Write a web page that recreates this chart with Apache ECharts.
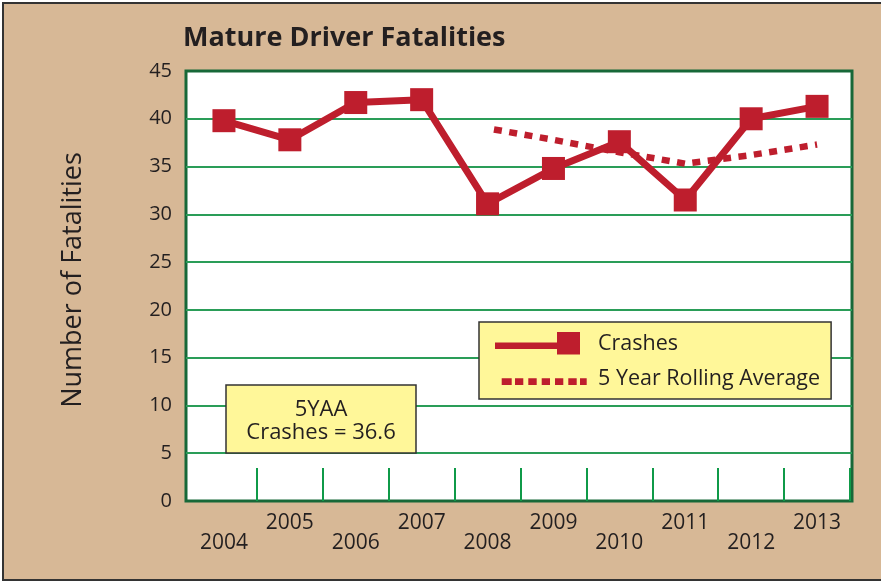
<!DOCTYPE html>
<html>
<head>
<meta charset="utf-8">
<script src="https://cdn.jsdelivr.net/npm/echarts@6/dist/echarts.min.js"></script>
<style>
html,body{margin:0;padding:0;background:#fff;}
#chart{width:881px;height:582px;}
</style>
</head>
<body>
<div id="chart"></div>
<script>
const years = ['2004','2005','2006','2007','2008','2009','2010','2011','2012','2013'];
const crashes = [39.8, 37.8, 41.7, 42.0, 31.1, 34.8, 37.6, 31.5, 40.0, 41.3];
const rollingAvg = [null, null, null, null, 39.0, 37.8, 36.5, 35.3, 36.2, 37.3];
const yTicks = [0, 5, 10, 15, 20, 25, 30, 35, 40, 45];
const fiveYAA = 36.6;

const RED = '#be1e2d';
const TXT = '#231f20';
const FONT = '"Open Sans", "Noto Sans", sans-serif';

const chart = echarts.init(document.getElementById('chart'), null, {renderer: 'canvas'});
chart.setOption({
  backgroundColor: '#ffffff',
  animation: false,
  textStyle: {fontFamily: FONT, color: TXT},
  title: {
    text: 'Mature Driver Fatalities',
    left: 183, top: 23, padding: 0,
    textStyle: {fontFamily: FONT, fontSize: 27, fontWeight: 'bold', color: TXT, lineHeight: 30}
  },
  grid: [
    {left: 186, right: 29, top: 71, bottom: 81, show: true, backgroundColor: '#ffffff',
     borderColor: '#176838', borderWidth: 3, containLabel: false},
    {left: 191, right: 31, top: 71, bottom: 81, show: false, containLabel: false}
  ],
  xAxis: [{
    gridIndex: 0,
    type: 'category',
    data: years,
    show: false
  }, {
    gridIndex: 1,
    type: 'category',
    data: years,
    boundaryGap: true,
    axisLine: {show: false},
    axisTick: {show: true, inside: true, length: 33, interval: (i) => i !== 0,
               lineStyle: {color: '#0f9a48', width: 2}},
    axisLabel: {
      interval: 0, margin: 12, fontSize: 21, lineHeight: 20, color: TXT, fontFamily: FONT,
      formatter: (v, i) => (i % 2 === 0 ? '\n' + v : v)
    },
    splitLine: {show: false}
  }],
  yAxis: [{
    gridIndex: 0,
    type: 'value',
    min: 0, max: 45, interval: 5,
    name: 'Number of Fatalities',
    nameLocation: 'middle',
    nameGap: 99,
    nameTextStyle: {fontFamily: FONT, fontSize: 27, color: TXT, padding: [0, 0, 0, 12]},
    axisLine: {show: false},
    axisTick: {show: false},
    axisLabel: {margin: 14, fontSize: 20, color: TXT, fontFamily: FONT,
                formatter: (v) => (yTicks.indexOf(v) >= 0 ? String(v) : '')},
    splitLine: {show: true, showMinLine: false, showMaxLine: false,
                lineStyle: {color: '#2a9d58', width: 2}}
  }, {
    gridIndex: 1,
    type: 'value',
    min: 0, max: 45, interval: 5,
    show: false,
    splitLine: {show: false}
  }],
  legend: {
    orient: 'vertical',
    left: 479, top: 322,
    backgroundColor: '#fff799',
    borderColor: '#333333',
    borderWidth: 1.5,
    borderRadius: 0,
    padding: [10, 11, 9, 16],
    itemWidth: 98,
    itemHeight: 23,
    itemGap: 12,
    textStyle: {fontFamily: FONT, fontSize: 21.5, color: TXT},
    data: [
      {name: 'Crashes',
       icon: 'path://M0,0M98,23M0,10.5L62,10.5L62,17L0,17ZM62,0L85,0L85,22.5L62,22.5Z',
       itemStyle: {color: RED, borderWidth: 0}},
      {name: '5 Year Rolling Average',
       icon: 'path://M0,0M98,23M6.7,11.3L16.7,11.3L16.7,18L6.7,18ZM20,11.3L28.3,11.3L28.3,18L20,18ZM33.3,11.3L41.7,11.3L41.7,18L33.3,18ZM46.7,11.3L55,11.3L55,18L46.7,18ZM60,11.3L68.3,11.3L68.3,18L60,18ZM73.3,11.3L81.7,11.3L81.7,18L73.3,18ZM85,11.3L91.7,11.3L91.7,18L85,18Z',
       itemStyle: {color: RED, borderWidth: 0}}
    ]
  },
  graphic: [
    {type: 'rect', z: -100, silent: true,
     shape: {x: 3, y: 3, width: 900, height: 577},
     style: {fill: '#d7b896', stroke: '#333333', lineWidth: 2}},
    {type: 'rect', z: 50, shape: {x: 226, y: 385, width: 190, height: 68},
     style: {fill: '#fff799', stroke: '#333333', lineWidth: 1.5}},
    {type: 'text', z: 51, x: 321, y: 421,
     style: {text: '5YAA\nCrashes = ' + fiveYAA.toFixed(1), fill: TXT, font: '22px ' + FONT,
             align: 'center', verticalAlign: 'middle', lineHeight: 23}}
  ],
  series: [
    {
      name: 'Crashes',
      type: 'line',
      xAxisIndex: 1, yAxisIndex: 1,
      data: crashes,
      symbol: 'rect',
      symbolSize: 23,
      lineStyle: {color: RED, width: 7},
      itemStyle: {color: RED, borderWidth: 0},
      z: 3
    },
    {
      name: '5 Year Rolling Average',
      type: 'line',
      xAxisIndex: 1, yAxisIndex: 1,
      data: rollingAvg,
      symbol: 'none',
      connectNulls: false,
      lineStyle: {color: RED, width: 6.5, type: [8, 7.5], dashOffset: 9, cap: 'butt'},
      itemStyle: {color: RED},
      z: 2
    }
  ]
});
</script>
</body>
</html>
